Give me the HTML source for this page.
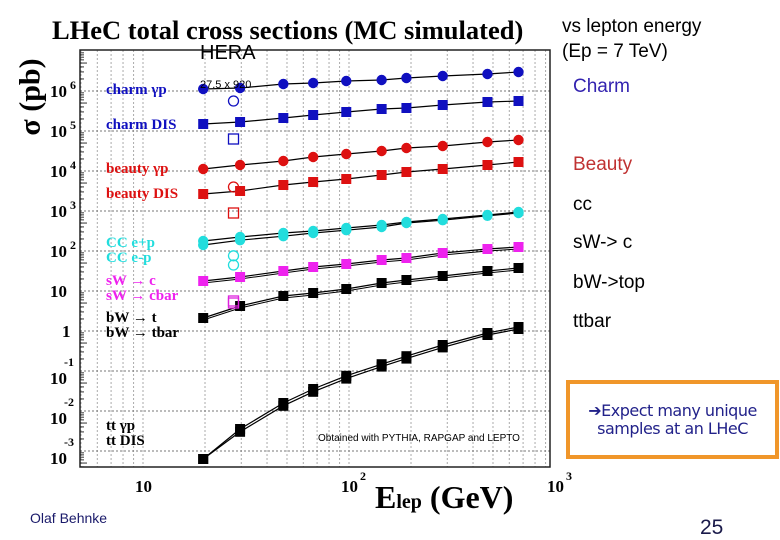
<!DOCTYPE html>
<html><head><meta charset="utf-8">
<style>
body{margin:0;background:#fff;width:780px;height:540px;overflow:hidden;position:relative;font-family:"Liberation Sans",sans-serif}
.t{position:absolute;white-space:nowrap}
.r{font-size:19px;color:#000}
</style></head><body>
<div class="t r" style="left:562px;top:16px">vs lepton energy</div>
<div class="t r" style="left:562px;top:41px">(Ep = 7 TeV)</div>
<div class="t r" style="left:573px;top:76px;color:#3323b0">Charm</div>
<div class="t r" style="left:573px;top:154px;color:#c03232">Beauty</div>
<div class="t r" style="left:573px;top:194px">cc</div>
<div class="t r" style="left:573px;top:232px">sW-&gt; c</div>
<div class="t r" style="left:573px;top:272px">bW-&gt;top</div>
<div class="t r" style="left:573px;top:311px">ttbar</div>
<div style="position:absolute;left:566px;top:380px;width:205px;height:71px;border:4px solid #f0962a;background:#fff">
<div style="position:absolute;left:0;right:0;top:18px;text-align:center;font-size:16px;line-height:18px;color:#22228a;font-family:'DejaVu Sans',sans-serif;letter-spacing:-0.5px">➔Expect many unique<br>samples at an LHeC</div></div>
<div class="t" style="left:30px;top:510px;font-size:14px;color:#1a1a6a">Olaf Behnke</div>
<div class="t" style="left:700px;top:516px;font-size:21px;color:#1a1a4a">25</div>
<svg id="chart" width="580" height="540" style="position:absolute;left:0;top:0" xmlns="http://www.w3.org/2000/svg"></svg>
<script>
const energies=[19.6,29.6,48,67,97,144,190,285,470,665];
const charmGp=[6.05,6.075,6.175,6.2,6.25,6.275,6.325,6.375,6.425,6.475];
const charmDIS=[5.175,5.225,5.325,5.4,5.475,5.55,5.575,5.65,5.725,5.75];
const beautyGp=[4.05,4.15,4.25,4.35,4.425,4.5,4.575,4.625,4.725,4.775];
const beautyDIS=[3.425,3.5,3.65,3.725,3.8,3.9,3.975,4.05,4.15,4.225];
const ccEp=[2.25,2.35,2.45,2.5,2.575,2.65,2.725,2.8,2.9,2.975];
const ccEm=[2.15,2.27,2.37,2.45,2.52,2.6,2.7,2.77,2.88,2.95];
const sWc=[1.25,1.35,1.5,1.6,1.675,1.775,1.825,1.95,2.05,2.1];
const bWt=[0.325,0.625,0.875,0.95,1.05,1.2,1.275,1.375,1.5,1.575];
const ttGp=[-3.2,-2.45,-1.8,-1.45,-1.12,-0.83,-0.63,-0.35,-0.05,0.1];
const ttDIS=[-3.2,-2.52,-1.87,-1.52,-1.19,-0.89,-0.69,-0.41,-0.1,0.05];
const heraE=[27.5];
const heraOpen=[[5.75,'#1010c0','c'],[4.8,'#1010c0','s'],[3.6,'#dd1111','c'],[2.95,'#dd1111','s'],[1.88,'#22dddd','c'],[1.65,'#22dddd','c'],[0.7,'#dd22dd','s'],[0.75,'#dd22dd','s']];
const yTicks=[6,5,4,3,2,1,0,-1,-2,-3];
const xTicks=[1,2,3];
const L=80,R=550,T=50,B=467;
const X=e=>143+(Math.log10(e)-1)*206;
const Y=l=>331-l*40;
const svg=document.getElementById('chart');
const NS='http://www.w3.org/2000/svg';
function el(t,a,p){const e=document.createElementNS(NS,t);for(const k in a)e.setAttribute(k,a[k]);(p||svg).appendChild(e);return e;}
for(let d=0;d<3;d++)for(let m=1;m<10;m++){const e=m*Math.pow(10,d);const x=X(e);if(x<=L||x>=R)continue;
const g=el('line',{x1:x,x2:x,y1:T,y2:B,stroke:'#aaa','stroke-width':1,'stroke-dasharray':'2,2'});
}
yTicks.forEach(l=>{const g=el('line',{x1:L,x2:R,y1:Y(l),y2:Y(l),stroke:'#777','stroke-width':1,'stroke-dasharray':'2,2'});
});
for(let l=-4;l<8;l++)for(let m=2;m<10;m++){const y=Y(l+Math.log10(m));if(y<=T||y>=B)continue;
const k=el('line',{x1:L,x2:L+(m==5?7:4),y1:y,y2:y,stroke:'#333','stroke-width':1});}
const fr=el('rect',{x:L,y:T,width:R-L,height:B-T,fill:'none',stroke:'#222','stroke-width':1.5});

yTicks.forEach(l=>{const g=el('text',{x:50,y:Y(l)+6,'font-family':'Liberation Serif,serif','font-weight':'bold','font-size':17});

if(l===0){g.textContent='1';g.setAttribute('x',62);}else if(l===1){g.textContent='10';}
else{g.textContent='10';if(l<0){g.setAttribute('y',Y(l)+13);}const s=el('text',{x:l<0?64:70,y:l<0?Y(l)-5:Y(l)-2,'font-family':'Liberation Serif,serif','font-weight':'bold','font-size':12});s.textContent=String(l);
}});
xTicks.forEach(d=>{const g=el('text',{x:X(Math.pow(10,d))-8,y:492,'font-family':'Liberation Serif,serif','font-weight':'bold','font-size':17});g.textContent='10';

if(d>1){const s=el('text',{x:X(Math.pow(10,d))+11,y:480,'font-family':'Liberation Serif,serif','font-weight':'bold','font-size':12});s.textContent=String(d);
}});
const series=[[ccEm,'#22dddd','c'],[ccEp,'#22dddd','c'],[charmGp,'#1010c0','c'],[charmDIS,'#1010c0','s'],[beautyGp,'#dd1111','c'],[beautyDIS,'#dd1111','s'],[sWc,'#ee22ee','s'],[bWt,'#000','s'],[ttDIS,'#000','s'],[ttGp,'#000','s']];
series.forEach(([v,c,sh],si)=>{
const pts=v.map((l,i)=>X(energies[i])+','+Y(l)).join(' ');
const pl=el('polyline',{points:pts,fill:'none',stroke:'#000','stroke-width':1.2});

if(v===sWc||v===bWt){const p2=el('polyline',{points:v.map((l,i)=>X(energies[i])+','+(Y(l)+2)).join(' '),fill:'none',stroke:'#000','stroke-width':1});}
v.forEach((l,i)=>{const x=X(energies[i]),y=Y(l);let m;
if(sh==='c')m=el('circle',{cx:x,cy:y,r:5.2,fill:c});else m=el('rect',{x:x-5,y:y-5,width:10,height:10,fill:c});
});});
heraOpen.forEach(([l,c,sh])=>{const x=X(heraE[0]),y=Y(l);let m;
if(sh==='c')m=el('circle',{cx:x,cy:y,r:5,fill:'none',stroke:c,'stroke-width':1.3});else m=el('rect',{x:x-5,y:y-5,width:10,height:10,fill:'none',stroke:c,'stroke-width':1.3});
});
</script>
<div class="t" style="left:52px;top:15px;font-family:'Liberation Serif',serif;font-weight:bold;font-size:26.5px">LHeC total cross sections (MC simulated)</div>
<div class="t" style="left:-8px;top:80px;transform:rotate(-90deg);font-family:'Liberation Serif',serif;font-weight:bold;font-size:30px">σ (pb)</div>
<div class="t" style="left:375px;top:479px;font-family:'Liberation Serif',serif;font-weight:bold;font-size:32px">E<span style="font-size:20px">lep</span> (GeV)</div>
<div class="t" style="left:200px;top:42px;font-size:20px">HERA</div>
<div class="t" style="left:200px;top:79px;font-size:11px">27.5 x 920</div>
<div class="t" style="left:318px;top:433px;font-size:10px">Obtained with PYTHIA, RAPGAP and LEPTO</div>
<div style="position:absolute;left:106px;top:80px;font-family:'Liberation Serif',serif;font-weight:bold;font-size:15px;line-height:15px">
<div class="t" style="top:3px;color:#1010c0">charm γp</div>
<div class="t" style="top:38px;color:#1010c0">charm DIS</div>
<div class="t" style="top:82px;color:#dd1111">beauty γp</div>
<div class="t" style="top:107px;color:#dd1111">beauty DIS</div>
<div class="t" style="top:156px;color:#22dddd">CC e+p<br>CC e-p</div>
<div class="t" style="top:194px;color:#ee22ee">sW → c<br>sW → cbar</div>
<div class="t" style="top:231px;color:#000">bW → t<br>bW → tbar</div>
<div class="t" style="top:339px;color:#000">tt γp<br>tt DIS</div>
</div>
</body></html>
